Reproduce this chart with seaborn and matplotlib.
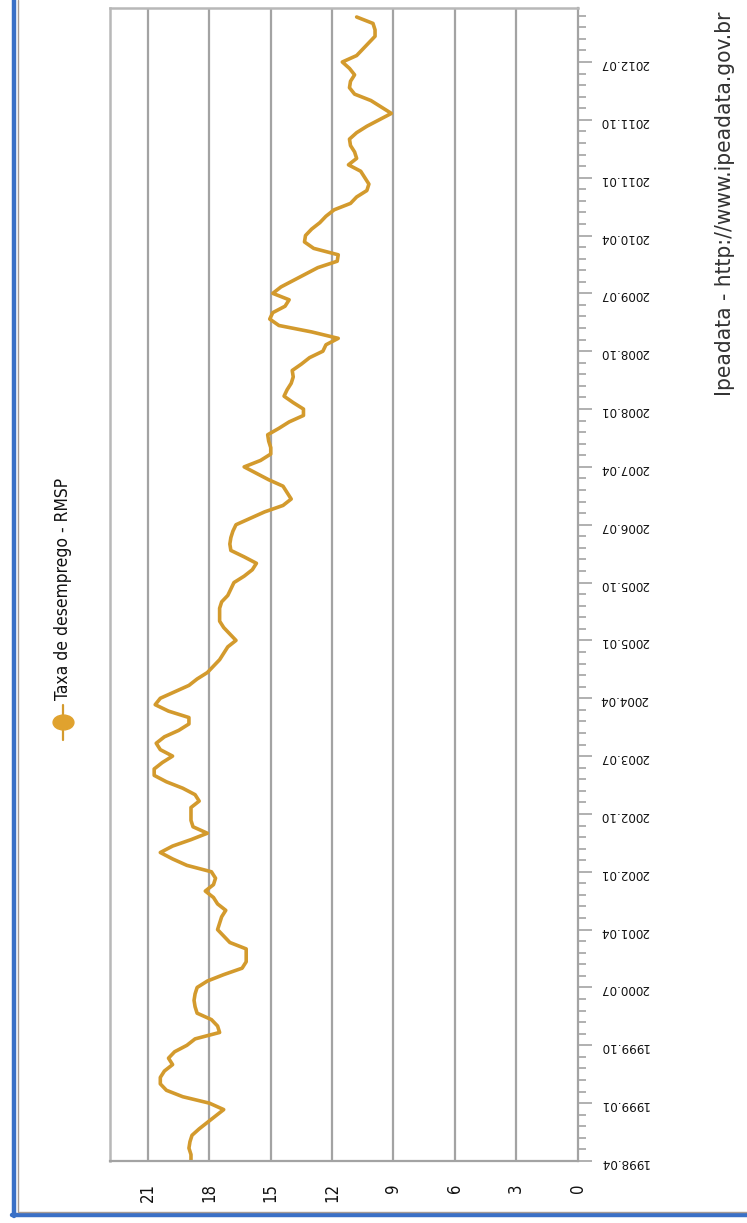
"""
Taxa de desemprego - RMSP (Ipeadata), grafico girado 90 graus
"""

import numpy as np
import pandas as pd
import matplotlib
matplotlib.use("Agg")
import matplotlib.pyplot as plt
import seaborn as sns
from matplotlib import font_manager
from matplotlib.lines import Line2D
from matplotlib.path import Path
from matplotlib.transforms import Affine2D
from matplotlib.ticker import MultipleLocator, FixedLocator

sns.set_style("white")

# fonte estreita, se existir
entradas = font_manager.fontManager.ttflist
if any(f.name == "Liberation Sans Narrow" for f in entradas):
    fam, estica = "Liberation Sans Narrow", "normal"
elif any(f.name == "DejaVu Sans" and f.stretch == "condensed" for f in entradas):
    fam, estica = "DejaVu Sans", "condensed"
else:
    fam, estica = "Liberation Sans", "normal"
plt.rcParams["font.family"] = [fam, "DejaVu Sans"]
plt.rcParams["font.stretch"] = estica

# ----------------------------------------------------------------------
# DADOS (mensal, 1998.04 em diante)
# ----------------------------------------------------------------------
inicio = "1998-04"
taxa = [
    18.9, 18.9, 19.0, 18.95, 18.85, 18.5, 18.1, 17.7, 17.3,              # 1998
    18.0, 19.3, 20.1, 20.4, 20.4, 20.2, 19.8, 20.0, 19.7, 19.1, 18.7, 17.5,  # 1999
    17.6, 17.9, 18.6, 18.7, 18.75, 18.7, 18.6, 18.1, 17.3, 16.4, 16.2, 16.2,  # 2000
    16.2, 17.0, 17.3, 17.6, 17.5, 17.4, 17.2, 17.6, 17.8, 18.2, 17.8, 17.7,  # 2001
    17.9, 19.1, 19.8, 20.4, 19.8, 18.9, 18.1, 18.8, 18.9, 18.9, 18.9, 18.5,  # 2002
    18.7, 19.3, 20.1, 20.7, 20.7, 20.3, 19.8, 20.4, 20.6, 20.2, 19.5, 19.0,  # 2003
    19.0, 20.0, 20.65, 20.4, 19.7, 19.0, 18.6, 18.1, 17.8, 17.5, 17.3, 17.1,  # 2004
    16.7, 17.0, 17.3, 17.5, 17.5, 17.5, 17.4, 17.1, 16.95, 16.8, 16.3, 15.9,  # 2005
    15.7, 16.3, 16.95, 17.0, 16.95, 16.85, 16.7, 16.0, 15.3, 14.4, 14.0, 14.2,  # 2006
    14.4, 15.1, 15.7, 16.3, 15.5, 15.0, 15.0, 15.1, 15.15, 14.6, 14.1, 13.4,  # 2007
    13.4, 13.9, 14.35, 14.2, 14.0, 13.9, 13.95, 13.5, 13.1, 12.45, 12.3, 11.7,  # 2008
    13.0, 14.6, 15.05, 14.9, 14.3, 14.1, 14.9, 14.5, 13.9, 13.3, 12.7, 11.75,  # 2009
    11.7, 12.9, 13.35, 13.3, 13.0, 12.6, 12.3, 11.9, 11.1, 10.8, 10.3, 10.2,  # 2010
    10.4, 10.6, 11.2, 10.8, 10.9, 11.1, 11.15, 10.8, 10.3, 9.7, 9.1, 9.6,  # 2011
    10.1, 10.9, 11.15, 11.1, 10.9, 11.15, 11.5, 10.8, 10.5, 10.2, 9.9, 9.9,  # 2012
    10.0, 10.8,                                                          # 2013
]
rotulos_datas = ["1998.04", "1999.01", "1999.10", "2000.07", "2001.04", "2002.01",
                 "2002.10", "2003.07", "2004.04", "2005.01", "2005.10", "2006.07",
                 "2007.04", "2008.01", "2008.10", "2009.07", "2010.04", "2011.01",
                 "2011.10", "2012.07"]
valores_eixo = [0, 3, 6, 9, 12, 15, 18, 21]
serie_nome = "Taxa de desemprego - RMSP"
fonte = "Ipeadata - http://www.ipeadata.gov.br"

df = pd.DataFrame({"mes": np.arange(len(taxa)), "taxa": taxa})
ano0, mes0 = int(inicio[:4]), int(inicio[5:])
pos_datas = [(int(r[:4]) - ano0) * 12 + int(r[5:]) - mes0 for r in rotulos_datas]

# ----------------------------------------------------------------------
# FIGURA
# ----------------------------------------------------------------------
W, H = 747, 1223
cor_linha = "#d39a2d"
cor_grade = "#a3a3a3"
cor_texto = "#111111"

fig = plt.figure(figsize=(W / 100, H / 100), dpi=100)
ax = fig.add_axes([110 / W, 1 - 1161 / H, (577.5 - 110) / W, (1161 - 8) / H])

sns.lineplot(data=df, x="taxa", y="mes", orient="y", estimator=None,
             color=cor_linha, linewidth=2.6, ax=ax)

ax.set_xlim(22.86, 0)
ax.set_ylim(0, 179.4)
ax.set_xlabel("")
ax.set_ylabel("")

# eixo de valores (embaixo)
ax.xaxis.set_major_locator(FixedLocator(valores_eixo))
ax.xaxis.set_minor_locator(MultipleLocator(1))
ax.set_xticklabels([str(v) for v in valores_eixo])
ax.tick_params(axis="x", which="major", length=9, width=1.2, color=cor_grade,
               direction="out", labelrotation=90, labelsize=12, pad=7,
               labelcolor=cor_texto)
ax.tick_params(axis="x", which="minor", length=4, width=1.2, color=cor_grade,
               direction="out")

# eixo de datas (a direita, rotulos de cabeca para baixo)
ax.yaxis.tick_right()
ax.yaxis.set_major_locator(FixedLocator(pos_datas))
ax.yaxis.set_minor_locator(MultipleLocator(1.8))
ax.set_yticklabels(rotulos_datas)
ax.tick_params(axis="y", which="major", length=10, width=1.2, color=cor_grade,
               direction="out", labelrotation=180, labelsize=9.5, pad=6,
               labelcolor=cor_texto)
ax.tick_params(axis="y", which="minor", length=6, width=1.2, color=cor_grade,
               direction="out")

ax.grid(False)
for v in valores_eixo[1:]:
    ax.axvline(v, color=cor_grade, lw=1.6, zorder=0)

for lado in ["top", "left"]:
    ax.spines[lado].set_color("#b8b8b8")
    ax.spines[lado].set_linewidth(1.8)
for lado in ["bottom", "right"]:
    ax.spines[lado].set_color(cor_grade)
    ax.spines[lado].set_linewidth(1.6)

# legenda (girada)
def fx(x):
    return x / W

def fy(y):
    return 1 - y / H

fig.add_artist(Line2D([fx(63), fx(63)], [fy(705), fy(740)], color=cor_linha,
                      lw=1.6, transform=fig.transFigure))
elipse = Path.unit_circle().transformed(Affine2D().scale(1.4, 1.0))
fig.add_artist(Line2D([fx(63)], [fy(722)], marker=elipse, markersize=15,
                      color="#e0a22e", lw=0, transform=fig.transFigure))
fig.text(fx(63), fy(700), serie_nome, rotation=90, ha="center", va="bottom",
         fontsize=12.5, color=cor_texto)

# fonte
fig.text(fx(725), fy(396), fonte, rotation=90, ha="center", va="bottom",
         fontsize=16.2, color="#333333")

# moldura da janela (azul a esquerda e embaixo)
fig.add_artist(Line2D([fx(14), fx(14)], [fy(0), fy(1216)], color="#3a70c6",
                      lw=3.2, transform=fig.transFigure))
fig.add_artist(Line2D([fx(17.5), fx(17.5)], [fy(0), fy(1211)], color="#a89c94",
                      lw=1, transform=fig.transFigure))
fig.add_artist(Line2D([fx(12), fx(W)], [fy(1215), fy(1215)], color="#3a70c6",
                      lw=3.2, transform=fig.transFigure))
fig.add_artist(Line2D([fx(17.5), fx(W)], [fy(1211.5), fy(1211.5)], color="#a89c94",
                      lw=1, transform=fig.transFigure))

fig.savefig("out.png", dpi=100)
